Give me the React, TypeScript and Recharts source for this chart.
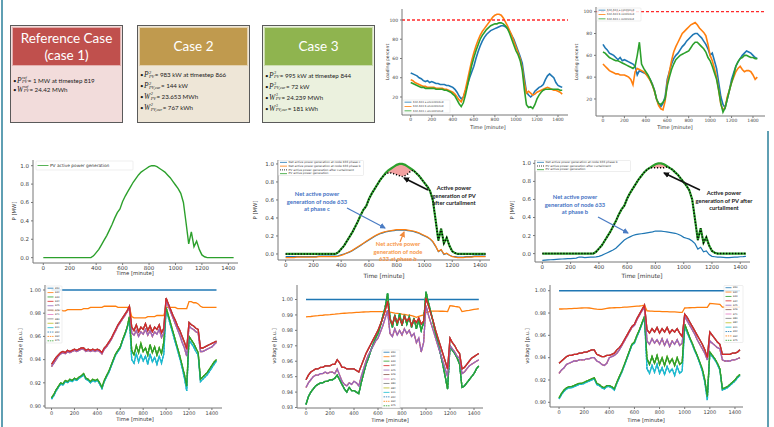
import { Area, ComposedChart, Line, ReferenceLine, XAxis, YAxis } from 'recharts';

// time grid shared by every series (minutes)
const MINUTES = [
  0, 20, 40, 60, 80, 100, 120, 140, 160, 180,
  200, 220, 240, 260, 280, 300, 320, 340, 360, 380,
  400, 420, 440, 460, 480, 500, 520, 540, 560, 580,
  600, 620, 640, 660, 680, 700, 720, 740, 760, 780,
  800, 820, 840, 860, 880, 900, 920, 940, 960, 980,
  1000, 1020, 1040, 1060, 1080, 1100, 1120, 1140, 1160, 1180,
  1200, 1220, 1240, 1260, 1280, 1300, 1320, 1340, 1360, 1380,
  1400, 1420, 1440,
];
const X_TICKS = [0, 200, 400, 600, 800, 1000, 1200, 1400];
const LOAD_TICKS = [20, 40, 60, 80, 100];
const P_TICKS = [0, 0.2, 0.4, 0.6, 0.8, 1.0];
const V_TICKS_WIDE = [0.9, 0.92, 0.94, 0.96, 0.98, 1.0];
const V_TICKS_CASE2 = [0.93, 0.94, 0.95, 0.96, 0.97, 0.98, 0.99, 1.0];
const LOADING_LIMIT = 100;
const SOURCE_BUS_V = 1.0;

// line 632-633 loading, uncontrolled (reference case)
const LOAD_UNC_A = [
  45, 44, 43, 42, 40, 39, 37, 36, 37, 35,
  36, 35, 34, 34, 33, 33, 33, 32, 32, 31,
  30, 28, 25, 21, 18, 20, 26, 33, 40, 46,
  52, 60, 67, 73, 78, 82, 85, 87, 89, 90,
  91, 92, 93, 94, 94, 93, 91, 88, 84, 80,
  74, 68, 62, 55, 40, 25, 22, 20, 22, 26,
  28, 30, 31, 33, 38, 42, 44, 42, 40, 35,
  32, 31, 30,
];
const LOAD_UNC_B = [
  38, 37, 35, 34, 33, 32, 31, 31, 30, 30,
  30, 30, 29, 29, 29, 29, 28, 28, 27, 26,
  25, 23, 20, 17, 15, 20, 28, 38, 48, 58,
  66, 73, 79, 84, 88, 91, 94, 97, 100, 103,
  105, 106, 106, 105, 102, 98, 94, 89, 84, 78,
  72, 66, 60, 50, 35, 24, 26, 24, 22, 23,
  25, 26, 27, 28, 29, 30, 29, 28, 27, 27,
  26, 25, 23,
];
const LOAD_UNC_C = [
  35, 34, 33, 32, 31, 30, 30, 29, 29, 29,
  29, 29, 28, 28, 28, 28, 27, 27, 26, 25,
  23, 21, 17, 13, 10, 14, 22, 32, 43, 53,
  61, 68, 74, 80, 84, 87, 90, 92, 94, 95,
  96, 96, 97, 97, 96, 94, 91, 86, 80, 74,
  68, 64, 58, 48, 28, 12, 9, 10, 8, 12,
  18, 22, 25, 27, 28, 28, 28, 28, 28, 28,
  28, 27, 27,
];
// controlled
const LOAD_CTL_A = [
  70, 67, 65, 62, 61, 60, 58, 56, 58, 55,
  56, 55, 54, 53, 52, 50, 42, 46, 45, 44,
  43, 41, 38, 34, 28, 20, 15, 13, 16, 22,
  38, 45, 52, 57, 60, 62, 65, 68, 70, 73,
  75, 77, 79, 80, 80, 78, 76, 73, 70, 66,
  60, 62, 55, 48, 35, 22, 15, 12, 20, 28,
  38, 44, 50, 54, 57, 60, 62, 64, 63, 62,
  60, 58, 57,
];
const LOAD_CTL_B = [
  52, 50, 48, 46, 45, 44, 43, 43, 42, 42,
  42, 41, 40, 38, 33, 45, 48, 47, 46, 45,
  43, 40, 37, 33, 27, 20, 14, 11, 10, 18,
  35, 45, 55, 63, 68, 72, 76, 80, 82, 84,
  86, 88, 89, 90, 88, 85, 83, 81, 78, 70,
  60, 55, 48, 40, 28, 15, 10, 12, 22, 28,
  35, 40, 45, 48, 50, 47, 45, 46, 46, 45,
  42, 38, 40,
];
const LOAD_CTL_C = [
  63, 62, 60, 58, 57, 56, 55, 55, 54, 53,
  52, 51, 50, 49, 48, 50, 60, 72, 52, 48,
  45, 42, 38, 33, 28, 20, 16, 15, 17, 20,
  32, 40, 47, 52, 56, 58, 60, 61, 62, 63,
  64, 67, 70, 72, 72, 70, 68, 66, 63, 58,
  55, 50, 44, 38, 28, 16, 8, 12, 20, 28,
  35, 42, 50, 54, 57, 58, 60, 60, 59, 58,
  58, 57, 57,
];

// PV active power [MW]
const PV_GEN = [
  0, 0, 0, 0, 0, 0, 0, 0, 0, 0,
  0, 0, 0, 0, 0, 0, 0, 0, 0, 0.02,
  0.055, 0.09, 0.14, 0.19, 0.24, 0.3, 0.36, 0.43, 0.49, 0.53,
  0.61, 0.67, 0.72, 0.77, 0.82, 0.86, 0.9, 0.93, 0.95, 0.97,
  0.99, 1.0, 1.0, 0.99, 0.97, 0.95, 0.93, 0.9, 0.87, 0.83,
  0.79, 0.75, 0.7, 0.6, 0.38, 0.15, 0.28, 0.12, 0.18, 0.09,
  0.03, 0.01, 0, 0, 0, 0, 0, 0, 0, 0,
  0, 0, 0,
];
const PV_CUR_CASE2 = [
  0, 0, 0, 0, 0, 0, 0, 0, 0, 0,
  0, 0, 0, 0, 0, 0, 0, 0, 0, 0.02,
  0.055, 0.09, 0.14, 0.19, 0.24, 0.3, 0.36, 0.43, 0.49, 0.53,
  0.61, 0.67, 0.72, 0.77, 0.82, 0.86, 0.89, 0.9, 0.9, 0.89,
  0.88, 0.87, 0.86, 0.87, 0.89, 0.92, 0.93, 0.9, 0.87, 0.83,
  0.79, 0.75, 0.7, 0.6, 0.38, 0.15, 0.28, 0.12, 0.18, 0.09,
  0.03, 0.01, 0, 0, 0, 0, 0, 0, 0, 0,
  0, 0, 0,
];
const PV_CUR_CASE3 = [
  0, 0, 0, 0, 0, 0, 0, 0, 0, 0,
  0, 0, 0, 0, 0, 0, 0, 0, 0, 0.02,
  0.055, 0.09, 0.14, 0.19, 0.24, 0.3, 0.36, 0.43, 0.49, 0.53,
  0.61, 0.67, 0.72, 0.77, 0.82, 0.86, 0.9, 0.93, 0.95, 0.95,
  0.95, 0.95, 0.95, 0.95, 0.96, 0.95, 0.93, 0.9, 0.87, 0.83,
  0.79, 0.75, 0.7, 0.6, 0.38, 0.15, 0.28, 0.12, 0.18, 0.09,
  0.03, 0.01, 0, 0, 0, 0, 0, 0, 0, 0,
  0, 0, 0,
];
const NET633_C_CASE2 = [
  -0.03, -0.03, -0.03, -0.03, -0.03, -0.03, -0.03, -0.03, -0.03, -0.03,
  -0.03, -0.03, -0.025, -0.025, -0.025, -0.025, -0.025, -0.025, -0.025, -0.02,
  -0.01, 0.0, 0.01, 0.02, 0.035, 0.055, 0.075, 0.095, 0.115, 0.135,
  0.155, 0.175, 0.195, 0.21, 0.225, 0.235, 0.245, 0.25, 0.255, 0.26,
  0.265, 0.265, 0.265, 0.265, 0.26, 0.255, 0.25, 0.24, 0.23, 0.215,
  0.2, 0.185, 0.165, 0.135, 0.085, 0.025, 0.045, -0.005, 0.005, -0.015,
  -0.025, -0.03, -0.035, -0.035, -0.035, -0.03, -0.03, -0.03, -0.025, -0.025,
  -0.025, -0.025, -0.025,
];
const NET633_B_CASE2 = [
  -0.04, -0.04, -0.04, -0.04, -0.035, -0.035, -0.035, -0.035, -0.035, -0.035,
  -0.035, -0.035, -0.03, -0.03, -0.03, -0.03, -0.03, -0.03, -0.03, -0.025,
  -0.015, -0.005, 0.01, 0.025, 0.04, 0.06, 0.08, 0.1, 0.12, 0.14,
  0.16, 0.18, 0.2, 0.215, 0.23, 0.24, 0.25, 0.255, 0.26, 0.265,
  0.27, 0.27, 0.27, 0.27, 0.265, 0.26, 0.255, 0.245, 0.235, 0.22,
  0.205, 0.19, 0.17, 0.14, 0.09, 0.03, 0.05, 0.0, 0.01, -0.015,
  -0.03, -0.035, -0.04, -0.04, -0.04, -0.035, -0.035, -0.035, -0.03, -0.03,
  -0.03, -0.03, -0.03,
];
const NET633_B_CASE3 = [
  -0.075, -0.072, -0.07, -0.068, -0.066, -0.064, -0.062, -0.06, -0.058, -0.056,
  -0.055, -0.052, -0.05, -0.038, -0.04, -0.045, -0.042, -0.04, -0.038, -0.036,
  -0.03, -0.02, -0.005, 0.01, 0.025, 0.04, 0.06, 0.09, 0.12, 0.15,
  0.17, 0.185, 0.2, 0.21, 0.215, 0.22, 0.225, 0.23, 0.235, 0.24,
  0.25, 0.25, 0.248, 0.245, 0.24, 0.235, 0.23, 0.225, 0.215, 0.2,
  0.18, 0.17, 0.16, 0.14, 0.11, 0.05, 0.07, 0.02, 0.03, -0.01,
  -0.03, -0.035, -0.04, -0.04, -0.042, -0.045, -0.045, -0.042, -0.04, -0.038,
  -0.035, -0.033, -0.03,
];

// bus voltages [p.u.], case 1
const V1_ORANGE = [
  0.982, 0.982, 0.982, 0.982, 0.983, 0.982, 0.982, 0.983, 0.983, 0.983,
  0.983, 0.983, 0.983, 0.983, 0.984, 0.984, 0.984, 0.985, 0.985, 0.985,
  0.985, 0.985, 0.985, 0.986, 0.986, 0.986, 0.986, 0.986, 0.986, 0.985,
  0.985, 0.985, 0.985, 0.985, 0.985, 0.977, 0.976, 0.976, 0.976, 0.976,
  0.976, 0.976, 0.977, 0.977, 0.977, 0.977, 0.978, 0.978, 0.978, 0.978,
  0.985, 0.985, 0.985, 0.985, 0.985, 0.984, 0.984, 0.984, 0.984, 0.984,
  0.99, 0.99, 0.989, 0.989, 0.988, 0.986, 0.985, 0.985, 0.985, 0.985,
  0.985, 0.985, 0.985,
];
const V1_RED = [
  0.936, 0.939, 0.942, 0.944, 0.946, 0.947, 0.946, 0.948, 0.947, 0.948,
  0.949, 0.948, 0.949, 0.95, 0.95, 0.948, 0.949, 0.948, 0.949, 0.948,
  0.949, 0.948, 0.946, 0.95, 0.952, 0.955, 0.958, 0.962, 0.966, 0.97,
  0.973, 0.976, 0.979, 0.982, 0.986, 0.968, 0.965, 0.97, 0.964, 0.968,
  0.966, 0.971, 0.965, 0.969, 0.964, 0.968, 0.966, 0.97, 0.963, 0.967,
  0.993, 0.988, 0.983, 0.978, 0.974, 0.969, 0.965, 0.96, 0.955, 0.949,
  0.972, 0.97, 0.969, 0.967, 0.966, 0.95, 0.95, 0.951, 0.952, 0.953,
  0.954, 0.955, 0.956,
];
const V1_PURPLE = [
  0.934, 0.937, 0.94, 0.943, 0.945, 0.946, 0.945, 0.947, 0.946, 0.947,
  0.948, 0.947, 0.948, 0.949, 0.949, 0.947, 0.948, 0.947, 0.948, 0.947,
  0.948, 0.947, 0.945, 0.949, 0.951, 0.954, 0.957, 0.961, 0.965, 0.969,
  0.972, 0.975, 0.978, 0.981, 0.985, 0.963, 0.961, 0.965, 0.96, 0.964,
  0.962, 0.966, 0.961, 0.965, 0.96, 0.964, 0.962, 0.966, 0.959, 0.963,
  0.991, 0.986, 0.981, 0.976, 0.971, 0.966, 0.961, 0.955, 0.95, 0.943,
  0.969, 0.967, 0.966, 0.964, 0.963, 0.947, 0.947, 0.948, 0.949, 0.95,
  0.951, 0.953, 0.955,
];
const V1_GREEN = [
  0.907, 0.91, 0.914, 0.917, 0.92, 0.919, 0.922, 0.921, 0.923, 0.922,
  0.924, 0.923, 0.925, 0.926, 0.928, 0.924, 0.923, 0.921, 0.923, 0.922,
  0.923, 0.92, 0.916, 0.922, 0.926, 0.93, 0.935, 0.94, 0.945, 0.948,
  0.951, 0.957, 0.962, 0.968, 0.977, 0.948, 0.944, 0.952, 0.946, 0.954,
  0.947, 0.95, 0.944, 0.953, 0.946, 0.951, 0.944, 0.95, 0.945, 0.955,
  0.985, 0.978, 0.971, 0.964, 0.957, 0.95, 0.943, 0.935, 0.927, 0.917,
  0.96, 0.957, 0.954, 0.95, 0.946, 0.923, 0.925, 0.927, 0.929, 0.932,
  0.935, 0.938, 0.94,
];
const V1_CYAN = [
  0.906, 0.909, 0.913, 0.916, 0.919, 0.918, 0.921, 0.92, 0.922, 0.921,
  0.923, 0.922, 0.924, 0.925, 0.927, 0.923, 0.922, 0.92, 0.922, 0.921,
  0.922, 0.919, 0.915, 0.921, 0.925, 0.929, 0.934, 0.939, 0.944, 0.947,
  0.95, 0.956, 0.961, 0.967, 0.975, 0.94, 0.937, 0.945, 0.938, 0.944,
  0.939, 0.943, 0.936, 0.945, 0.938, 0.942, 0.936, 0.943, 0.937, 0.945,
  0.983, 0.976, 0.969, 0.962, 0.955, 0.948, 0.941, 0.933, 0.924, 0.913,
  0.957, 0.954, 0.951, 0.947, 0.944, 0.921, 0.923, 0.925, 0.927, 0.93,
  0.933, 0.936, 0.939,
];

// case 2
const V2_ORANGE = [
  0.9888, 0.9889, 0.989, 0.9892, 0.9894, 0.9895, 0.9897, 0.9898, 0.99, 0.9901,
  0.9902, 0.9904, 0.9905, 0.9907, 0.9908, 0.991, 0.9911, 0.9912, 0.9913, 0.9914,
  0.9915, 0.9916, 0.9917, 0.9918, 0.9919, 0.992, 0.992, 0.9921, 0.9921, 0.9921,
  0.9922, 0.9922, 0.9922, 0.9921, 0.992, 0.9918, 0.9915, 0.9912, 0.991, 0.9908,
  0.9905, 0.9903, 0.99, 0.9898, 0.9895, 0.989, 0.9885, 0.989, 0.9895, 0.99,
  0.9915, 0.992, 0.9925, 0.9925, 0.9925, 0.9925, 0.9924, 0.9924, 0.9923, 0.9922,
  0.996, 0.9958, 0.9955, 0.9953, 0.995, 0.9922, 0.9925, 0.9928, 0.993, 0.9933,
  0.9936, 0.9938, 0.994,
];
const V2_RED = [
  0.948, 0.951, 0.953, 0.954, 0.955, 0.955, 0.956, 0.956, 0.957, 0.957,
  0.957, 0.958, 0.958, 0.961, 0.959, 0.956, 0.956, 0.955, 0.955, 0.955,
  0.955, 0.954, 0.953, 0.957, 0.961, 0.965, 0.968, 0.971, 0.974, 0.977,
  0.98, 0.984, 0.988, 0.993, 0.999, 0.987, 0.984, 0.989, 0.985, 0.988,
  0.984, 0.989, 0.986, 0.988, 0.983, 0.987, 0.985, 0.988, 0.984, 0.986,
  1.001, 0.996, 0.991, 0.986, 0.98, 0.975, 0.97, 0.965, 0.96, 0.955,
  0.975, 0.972, 0.97, 0.967, 0.965, 0.955, 0.956, 0.958, 0.96, 0.962,
  0.963, 0.964, 0.965,
];
const V2_PURPLE = [
  0.943, 0.946, 0.948, 0.95, 0.951, 0.951, 0.952, 0.952, 0.953, 0.952,
  0.953, 0.953, 0.952, 0.955, 0.951, 0.947, 0.945, 0.944, 0.946, 0.945,
  0.947, 0.946, 0.944, 0.95, 0.955, 0.96, 0.964, 0.967, 0.97, 0.973,
  0.975, 0.979, 0.983, 0.988, 0.993, 0.978, 0.976, 0.981, 0.977, 0.98,
  0.977, 0.981, 0.978, 0.98, 0.976, 0.978, 0.972, 0.975, 0.966, 0.972,
  0.996, 0.99, 0.985, 0.98, 0.975, 0.97, 0.965, 0.96, 0.955, 0.95,
  0.97, 0.968, 0.966, 0.963, 0.962, 0.952, 0.953, 0.955, 0.957, 0.958,
  0.959, 0.96, 0.961,
];
const V2_GREEN = [
  0.932, 0.937, 0.94, 0.942, 0.944, 0.945, 0.946, 0.946, 0.947, 0.947,
  0.948, 0.948, 0.949, 0.951, 0.948, 0.945, 0.942, 0.94, 0.943, 0.941,
  0.941, 0.94, 0.939, 0.946, 0.952, 0.958, 0.962, 0.967, 0.971, 0.975,
  0.978, 0.983, 0.989, 0.995, 1.004, 0.988, 0.982, 0.99, 0.983, 0.991,
  0.983, 0.99, 0.984, 0.989, 0.982, 0.988, 0.981, 0.987, 0.98, 0.985,
  1.005, 0.998, 0.992, 0.985, 0.978, 0.972, 0.965, 0.958, 0.95, 0.942,
  0.97, 0.967, 0.965, 0.962, 0.958, 0.943, 0.944, 0.946, 0.948, 0.95,
  0.952, 0.955, 0.957,
];

// case 3
const V3_ORANGE = [
  0.9836, 0.9836, 0.9838, 0.9838, 0.984, 0.984, 0.9842, 0.9842, 0.9844, 0.9845,
  0.9846, 0.9846, 0.9845, 0.9842, 0.9838, 0.9834, 0.9832, 0.9832, 0.9838, 0.9842,
  0.9845, 0.9846, 0.9847, 0.9848, 0.9849, 0.985, 0.9852, 0.9853, 0.9855, 0.9857,
  0.9859, 0.9861, 0.9863, 0.9866, 0.987, 0.982, 0.9818, 0.9817, 0.9815, 0.9815,
  0.9814, 0.9813, 0.9812, 0.9812, 0.9811, 0.981, 0.981, 0.9808, 0.9806, 0.9805,
  0.9845, 0.9846, 0.9847, 0.9848, 0.9849, 0.985, 0.985, 0.985, 0.985, 0.985,
  0.9885, 0.9884, 0.9882, 0.988, 0.9878, 0.9852, 0.9852, 0.9852, 0.9852, 0.9852,
  0.9852, 0.9852, 0.9852,
];
const V3_RED = [
  0.935, 0.937, 0.939, 0.941, 0.942, 0.942, 0.943, 0.943, 0.944, 0.944,
  0.945, 0.945, 0.946, 0.947, 0.947, 0.943, 0.942, 0.941, 0.941, 0.942,
  0.942, 0.943, 0.944, 0.947, 0.949, 0.952, 0.956, 0.96, 0.964, 0.968,
  0.97, 0.975, 0.979, 0.983, 0.987, 0.965, 0.962, 0.966, 0.963, 0.967,
  0.962, 0.966, 0.963, 0.967, 0.962, 0.965, 0.963, 0.966, 0.962, 0.959,
  0.979, 0.976, 0.972, 0.968, 0.964, 0.96, 0.956, 0.952, 0.947, 0.94,
  0.963, 0.96, 0.957, 0.954, 0.952, 0.943, 0.943, 0.943, 0.943, 0.944,
  0.944, 0.945, 0.947,
];
const V3_PURPLE = [
  0.926, 0.929, 0.931, 0.934, 0.935, 0.936, 0.937, 0.937, 0.938, 0.938,
  0.938, 0.939, 0.939, 0.94, 0.94, 0.937, 0.936, 0.934, 0.933, 0.935,
  0.94, 0.941, 0.942, 0.944, 0.947, 0.951, 0.955, 0.959, 0.963, 0.967,
  0.969, 0.974, 0.978, 0.982, 0.985, 0.955, 0.952, 0.957, 0.953, 0.956,
  0.952, 0.957, 0.951, 0.956, 0.95, 0.955, 0.952, 0.956, 0.951, 0.953,
  0.977, 0.973, 0.969, 0.965, 0.961, 0.956, 0.952, 0.948, 0.944, 0.938,
  0.955, 0.953, 0.951, 0.949, 0.948, 0.938, 0.937, 0.937, 0.937, 0.938,
  0.938, 0.939, 0.94,
];
const V3_GREEN = [
  0.904, 0.908, 0.911, 0.913, 0.914, 0.914, 0.915, 0.916, 0.917, 0.917,
  0.918, 0.919, 0.92, 0.921, 0.922, 0.917, 0.916, 0.914, 0.913, 0.915,
  0.915, 0.914, 0.912, 0.918, 0.923, 0.928, 0.934, 0.94, 0.946, 0.952,
  0.954, 0.96, 0.965, 0.971, 0.977, 0.939, 0.934, 0.941, 0.935, 0.942,
  0.934, 0.94, 0.933, 0.941, 0.935, 0.939, 0.933, 0.94, 0.934, 0.936,
  0.97, 0.964, 0.958, 0.953, 0.947, 0.942, 0.936, 0.93, 0.92, 0.905,
  0.945, 0.942, 0.939, 0.935, 0.93, 0.912, 0.913, 0.914, 0.916, 0.918,
  0.92, 0.923, 0.925,
];
const V3_CYAN = [
  0.903, 0.907, 0.91, 0.912, 0.913, 0.913, 0.914, 0.915, 0.916, 0.916,
  0.917, 0.918, 0.919, 0.92, 0.921, 0.916, 0.915, 0.913, 0.912, 0.914,
  0.914, 0.913, 0.911, 0.917, 0.922, 0.927, 0.933, 0.939, 0.945, 0.951,
  0.953, 0.959, 0.964, 0.97, 0.976, 0.93, 0.926, 0.933, 0.927, 0.934,
  0.926, 0.931, 0.925, 0.932, 0.927, 0.93, 0.924, 0.932, 0.926, 0.928,
  0.968, 0.962, 0.957, 0.952, 0.946, 0.941, 0.935, 0.928, 0.918, 0.902,
  0.944, 0.941, 0.938, 0.934, 0.929, 0.911, 0.912, 0.913, 0.915, 0.917,
  0.919, 0.922, 0.924,
];

const C = {
  blue: '#1f77b4', orange: '#ff7f0e', green: '#2ca02c', red: '#d62728', purple: '#9467bd',
  brown: '#8c564b', pink: '#e377c2', gray: '#7f7f7f', olive: '#bcbd22', cyan: '#17becf',
};
const BUSES = ['650', '632', '633', '634', '645', '646', '671', '680', '684', '611', '652', '692', '675'];
const BUS_COLORS = [C.blue, C.orange, C.green, C.red, C.purple, C.brown, C.pink, C.gray, C.olive, C.cyan, C.blue, C.orange, C.green];

type Series = { key: string; color: string; values: number[]; width?: number; dash?: string };
type Box = [number, number, number, number];

function voltSeries(g: { orange: number[]; red: number[]; purple: number[]; green: number[]; cyan: number[] }): Series[] {
  // buses that sit on top of each other are drawn first, the distinct ones last
  return [
    { key: 'b646', color: C.brown, values: g.red },
    { key: 'b671', color: C.pink, values: g.purple },
    { key: 'b680', color: C.gray, values: g.red },
    { key: 'b684', color: C.olive, values: g.green },
    { key: 'b652', color: C.blue, values: g.cyan, dash: '2 1' },
    { key: 'b692', color: C.orange, values: g.purple, dash: '2 1' },
    { key: 'b675', color: C.green, values: g.green, dash: '2 1' },
    { key: 'b632', color: C.orange, values: g.orange },
    { key: 'b611', color: C.cyan, values: g.cyan },
    { key: 'b633', color: C.green, values: g.green },
    { key: 'b645', color: C.purple, values: g.purple },
    { key: 'b634', color: C.red, values: g.red },
  ];
}

const AX = '#777';

function Plot(props: {
  box: Box; xDomain: [number, number]; yDomain: [number, number]; yTicks: number[]; digits: number;
  font: number; series: Series[]; band?: [number[], number[]]; hline?: number; vsource?: number; lineW?: number;
}) {
  const { box, xDomain, yDomain, yTicks, digits, font, series, band, hline, vsource, lineW = 1 } = props;
  const [x, y, w, h] = box;
  const ML = 32, MT = 2, MR = 2, MB = 14;
  const data = MINUTES.map((t, i) => {
    const r: Record<string, unknown> = { t };
    series.forEach((s) => { r[s.key] = s.values[i]; });
    if (band) r.band = [band[0][i], band[1][i]];
    return r;
  });
  const tick = { fontSize: font, fill: '#444', fontFamily: 'DejaVu Sans' };
  return (
    <div style={{ position: 'absolute', left: x - ML, top: y - MT }}>
      <ComposedChart width={w + ML + MR} height={h + MT + MB} data={data} margin={{ top: MT, right: MR, bottom: 0, left: 0 }}>
        <XAxis dataKey="t" type="number" domain={xDomain} ticks={X_TICKS} interval={0} height={MB} tickSize={2}
          tickMargin={1} tick={tick} stroke={AX} allowDataOverflow />
        <XAxis xAxisId="top" dataKey="t" type="number" domain={xDomain} orientation="top" height={0}
          tick={false} tickLine={false} stroke={AX} allowDataOverflow />
        <YAxis type="number" domain={yDomain} ticks={yTicks} interval={0} width={ML} tickSize={2} tickMargin={2}
          tick={tick} tickFormatter={(v: number) => v.toFixed(digits)} stroke={AX} allowDataOverflow />
        <YAxis yAxisId="r" orientation="right" type="number" domain={yDomain} width={0} tick={false}
          tickLine={false} stroke={AX} allowDataOverflow />
        {band && <Area dataKey="band" type="linear" stroke="none" fill="#f08a8a" fillOpacity={0.8} isAnimationActive={false} />}
        {vsource !== undefined && (
          <ReferenceLine segment={[{ x: 0, y: vsource }, { x: 1440, y: vsource }]} stroke={C.blue} strokeWidth={1.5} />
        )}
        {series.map((s) => (
          <Line key={s.key} dataKey={s.key} type="linear" stroke={s.color} strokeWidth={s.width ?? lineW}
            strokeDasharray={s.dash} dot={false} isAnimationActive={false} />
        ))}
        {hline !== undefined && (
          <ReferenceLine y={hline} stroke="#ff2a2a" strokeDasharray="3 2" strokeWidth={1.3} />
        )}
      </ComposedChart>
    </div>
  );
}

type LegItem = { label: string; color: string; dash?: string };

function Legend(props: { x: number; y: number; w: number; h: number; items: LegItem[]; font: number; len: number }) {
  const { x, y, w, h, items, font, len } = props;
  const row = h / items.length;
  return (
    <g>
      <rect x={x} y={y} width={w} height={h} fill="#fff" fillOpacity={0.85} stroke="#ddd" strokeWidth={0.5} rx={0.8} />
      {items.map((it, i) => {
        const cy = y + row * (i + 0.5);
        return (
          <g key={i}>
            <line x1={x + 1.5} x2={x + 1.5 + len} y1={cy} y2={cy} stroke={it.color} strokeWidth={0.8} strokeDasharray={it.dash} />
            <text x={x + 3 + len} y={cy} fontSize={font} fill="#333" dominantBaseline="middle" fontFamily="DejaVu Sans">{it.label}</text>
          </g>
        );
      })}
    </g>
  );
}

function Sym({ b, sup, sub }: { b: string; sup: string; sub: string }) {
  return (
    <span style={{ display: 'inline-flex', alignItems: 'center', fontStyle: 'italic', fontFamily: 'Liberation Serif', margin: '0 0.5px' }}>
      <span style={{ fontSize: 7.5 }}>{b}</span>
      <span style={{ display: 'inline-flex', flexDirection: 'column', fontSize: 4.3, lineHeight: '4.3px', marginLeft: 0.3 }}>
        <span>{sup}</span>
        <span>{sub}</span>
      </span>
    </span>
  );
}

type CaseLine = { b: string; sup: string; sub: string; text: string };
const CASES: { left: number; title: string[]; head: string; body: string; lh: number; pad: number; lines: CaseLine[] }[] = [
  {
    left: 10, title: ['Reference Case', '(case 1)'], head: '#c0504d', body: '#f2dcdb', lh: 9, pad: 9.5,
    lines: [
      { b: 'P', sup: 'ref', sub: 'PV', text: '= 1 MW at timestep 819' },
      { b: 'W', sup: 'ref', sub: 'PV', text: '= 24.42 MWh' },
    ],
  },
  {
    left: 137, title: ['Case 2'], head: '#c09a4e', body: '#eee6d7', lh: 10.9, pad: 3.5,
    lines: [
      { b: 'P', sup: '2', sub: 'PV', text: '= 983 kW at timestep 866' },
      { b: 'P', sup: '2', sub: 'PV,cur', text: '= 144 kW' },
      { b: 'W', sup: '2', sub: 'PV', text: '= 23.653 MWh' },
      { b: 'W', sup: '2', sub: 'PV,cur', text: '= 767 kWh' },
    ],
  },
  {
    left: 262, title: ['Case 3'], head: '#8fb44f', body: '#ebf1de', lh: 10.9, pad: 4,
    lines: [
      { b: 'P', sup: '3', sub: 'PV', text: '= 995 kW at timestep 844' },
      { b: 'P', sup: '3', sub: 'PV,cur', text: '= 72 kW' },
      { b: 'W', sup: '3', sub: 'PV', text: '= 24.239 MWh' },
      { b: 'W', sup: '3', sub: 'PV,cur', text: '= 181 kWh' },
    ],
  },
];

function CaseBox({ c }: { c: (typeof CASES)[number] }) {
  return (
    <div style={{ position: 'absolute', left: c.left, top: 25, width: 113, height: 98, boxSizing: 'border-box',
      border: '1px solid #5a5a5a', background: c.body }}>
      <div style={{ margin: '1px 1px 0', height: 39, boxSizing: 'border-box', background: c.head,
        border: '1px solid rgba(255,255,255,0.55)', display: 'flex', flexDirection: 'column', justifyContent: 'center',
        alignItems: 'center', color: '#fff', fontFamily: 'Lato', fontSize: 13.5, lineHeight: '17px' }}>
        {c.title.map((t) => <div key={t}>{t}</div>)}
      </div>
      <div style={{ paddingTop: c.pad, paddingLeft: 2 }}>
        {c.lines.map((l, i) => (
          <div key={i} style={{ height: c.lh, display: 'flex', alignItems: 'center', fontFamily: 'Lato', fontSize: 6.2, color: '#1a1a1a', whiteSpace: 'nowrap' }}>
            <span>•</span>
            <Sym b={l.b} sup={l.sup} sub={l.sub} />
            <span>{l.text}</span>
          </div>
        ))}
      </div>
    </div>
  );
}

function Label({ x, y, text, rot, size = 5.3 }: { x: number; y: number; text: string; rot?: boolean; size?: number }) {
  return (
    <text x={x} y={y} fontSize={size} fill="#333" textAnchor="middle" dominantBaseline="middle" fontFamily="DejaVu Sans"
      transform={rot ? `rotate(-90 ${x} ${y})` : undefined}>{text}</text>
  );
}

function Note({ x, y, lines, color, size = 5.8 }: { x: number; y: number; lines: string[]; color: string; size?: number }) {
  return (
    <text x={x} y={y} fontSize={size} fill={color} textAnchor="middle" fontFamily="Lato" fontWeight={700}>
      {lines.map((l, i) => <tspan key={i} x={x} dy={i === 0 ? 0 : size * 1.3}>{l}</tspan>)}
    </text>
  );
}

const LOAD_LEG = (mode: string): LegItem[] => [
  { label: `632-633 a ${mode}`, color: C.blue },
  { label: `632-633 b ${mode}`, color: C.orange },
  { label: `632-633 c ${mode}`, color: C.green },
];
const BUS_LEG: LegItem[] = BUSES.map((b, i) => ({ label: b, color: BUS_COLORS[i], dash: i >= 10 ? '1.5 0.8' : undefined }));
const CUR_ITEM: LegItem = { label: 'PV active power generation after curtailment', color: '#000', dash: '1 1' };
const PV_ITEM: LegItem = { label: 'PV active power generation', color: C.green };

export default function App() {
  const arrows = [
    { id: 'k', c: '#111' }, { id: 'b', c: '#4a7cc4' }, { id: 'o', c: '#f28a3c' },
  ];
  return (
    <div style={{ position: 'absolute', left: 0, top: 0, width: 774, height: 427, background: '#fff', overflow: 'hidden', fontFamily: 'DejaVu Sans' }}>
      {CASES.map((c) => <CaseBox key={c.left} c={c} />)}

      <Plot box={[402, 9, 166, 106]} xDomain={[-83, 1495]} yDomain={[1.3, 111.4]} yTicks={LOAD_TICKS} digits={0} font={4.5}
        lineW={1.6} hline={LOADING_LIMIT}
        series={[
          { key: 'a', color: C.blue, values: LOAD_UNC_A },
          { key: 'b', color: C.orange, values: LOAD_UNC_B },
          { key: 'c', color: C.green, values: LOAD_UNC_C },
        ]} />
      <Plot box={[596, 7, 169, 109]} xDomain={[-65, 1512]} yDomain={[4.4, 104.3]} yTicks={LOAD_TICKS} digits={0} font={4.5}
        lineW={1.6} hline={LOADING_LIMIT}
        series={[
          { key: 'a', color: C.blue, values: LOAD_CTL_A },
          { key: 'b', color: C.orange, values: LOAD_CTL_B },
          { key: 'c', color: C.green, values: LOAD_CTL_C },
        ]} />

      <Plot box={[33, 160, 205, 103]} xDomain={[-78, 1473]} yDomain={[-0.058, 1.062]} yTicks={P_TICKS} digits={1} font={5.5}
        series={[{ key: 'pv', color: C.green, values: PV_GEN, width: 1.4 }]} />
      <Plot box={[278, 160, 212, 100]} xDomain={[-55, 1472]} yDomain={[-0.067, 1.044]} yTicks={P_TICKS} digits={1} font={5.5}
        band={[PV_CUR_CASE2, PV_GEN]}
        series={[
          { key: 'nc', color: C.blue, values: NET633_C_CASE2, width: 1.2 },
          { key: 'nb', color: C.orange, values: NET633_B_CASE2, width: 1.2 },
          { key: 'pv', color: C.green, values: PV_GEN, width: 2.2 },
          { key: 'cur', color: '#000', values: PV_CUR_CASE2, width: 1.5, dash: '1.2 1.8' },
        ]} />
      <Plot box={[535, 160, 215, 102]} xDomain={[-52, 1469]} yDomain={[-0.093, 1.037]} yTicks={P_TICKS} digits={1} font={5.5}
        band={[PV_CUR_CASE3, PV_GEN]}
        series={[
          { key: 'nb', color: C.blue, values: NET633_B_CASE3, width: 1.2 },
          { key: 'pv', color: C.green, values: PV_GEN, width: 2.2 },
          { key: 'cur', color: '#000', values: PV_CUR_CASE3, width: 1.5, dash: '1.2 1.8' },
        ]} />

      <Plot box={[45, 285, 177, 123]} xDomain={[-57, 1488]} yDomain={[0.8983, 1.0043]} yTicks={V_TICKS_WIDE} digits={2} font={5}
        vsource={SOURCE_BUS_V} lineW={1.3}
        series={voltSeries({ orange: V1_ORANGE, red: V1_RED, purple: V1_PURPLE, green: V1_GREEN, cyan: V1_CYAN })} />
      <Plot box={[297, 285, 186, 123]} xDomain={[-75, 1475]} yDomain={[0.9297, 1.0094]} yTicks={V_TICKS_CASE2} digits={2} font={5}
        vsource={SOURCE_BUS_V} lineW={1.3}
        series={voltSeries({ orange: V2_ORANGE, red: V2_RED, purple: V2_PURPLE, green: V2_GREEN, cyan: V2_GREEN })} />
      <Plot box={[550, 285, 193, 122]} xDomain={[-72, 1464]} yDomain={[0.8958, 1.0051]} yTicks={V_TICKS_WIDE} digits={2} font={5}
        vsource={SOURCE_BUS_V} lineW={1.3}
        series={voltSeries({ orange: V3_ORANGE, red: V3_RED, purple: V3_PURPLE, green: V3_GREEN, cyan: V3_CYAN })} />

      <svg width={774} height={427} style={{ position: 'absolute', left: 0, top: 0, pointerEvents: 'none' }}>
        <defs>
          {arrows.map((a) => (
            <marker key={a.id} id={`ah-${a.id}`} markerWidth={6} markerHeight={6} refX={5} refY={3} orient="auto" markerUnits="userSpaceOnUse">
              <path d="M0,0 L6,3 L0,6 z" fill={a.c} />
            </marker>
          ))}
        </defs>
        {/* slide frame */}
        <rect x={1} y={0} width={2} height={427} fill="#5f9fb3" />
        <rect x={767} y={131} width={2} height={296} fill="#5f9fb3" />

        {/* axis labels */}
        <Label x={488} y={128} text="Time [minute]" size={5} />
        <Label x={388} y={62} text="Loading percent" rot size={4.5} />
        <Label x={675} y={128} text="Time [minute]" size={5} />
        <Label x={577} y={62} text="Loading percent" rot size={4.5} />
        <Label x={135} y={274} text="Time [minute]" />
        <Label x={15} y={211} text="P [MW]" rot />
        <Label x={384} y={276} text="Time [minute]" size={5.8} />
        <Label x={256} y={210} text="P [MW]" rot />
        <Label x={642} y={276} text="Time [minute]" size={5.8} />
        <Label x={513} y={210} text="P [MW]" rot />
        <Label x={135} y={420} text="Time [minute]" />
        <Label x={21} y={346} text="voltage [p.u.]" rot />
        <Label x={390} y={421} text="Time [minute]" />
        <Label x={275} y={346} text="voltage [p.u.]" rot />
        <Label x={646} y={421} text="Time [minute]" />
        <Label x={528} y={346} text="voltage [p.u.]" rot />

        {/* legends */}
        <Legend x={403} y={100} w={47} h={13} items={LOAD_LEG('uncontrolled')} font={2.6} len={7} />
        <Legend x={597} y={8} w={44} h={13} items={LOAD_LEG('controlled')} font={2.6} len={7} />
        <Legend x={36} y={161} w={97} h={9} items={[PV_ITEM]} font={4.3} len={11} />
        <Legend x={278.5} y={160.5} w={85} h={15} font={2.9} len={7}
          items={[
            { label: 'Net active power generation at node 633 phase c', color: C.blue },
            { label: 'Net active power generation at node 633 phase b', color: C.orange },
            CUR_ITEM, PV_ITEM,
          ]} />
        <Legend x={535.5} y={160.5} w={95} h={11} font={2.9} len={7}
          items={[{ label: 'Net active power generation at node 633 phase b', color: C.blue }, CUR_ITEM, PV_ITEM]} />
        <Legend x={46} y={286} w={16} h={57} items={BUS_LEG} font={2.4} len={6} />
        <Legend x={382} y={350} w={18} h={58} items={BUS_LEG} font={2.4} len={6} />
        <Legend x={724} y={285.5} w={19} h={57} items={BUS_LEG} font={2.4} len={6} />

        {/* annotations, case 2 */}
        <line x1={428} y1={190} x2={404} y2={178} stroke="#111" strokeWidth={1.6} markerEnd="url(#ah-k)" />
        <Note x={454} y={190} color="#222" lines={['Active power', 'generation of PV', 'after curtailment']} />
        <line x1={347} y1={208} x2={385} y2={228} stroke="#4a7cc4" strokeWidth={1.2} markerEnd="url(#ah-b)" />
        <Note x={317} y={196} color="#4472c4" lines={['Net active power', 'generation of node 633', 'at phase c']} />
        <line x1={400} y1={242} x2={404} y2={232} stroke="#f28a3c" strokeWidth={1.2} markerEnd="url(#ah-o)" />
        <Note x={398} y={246} color="#f79646" lines={['Net active power', 'generation of node', '633 at phase b']} />

        {/* annotations, case 3 */}
        <line x1={700} y1={190} x2={664} y2={173} stroke="#111" strokeWidth={1.6} markerEnd="url(#ah-k)" />
        <Note x={724} y={195} color="#222" lines={['Active power', 'generation of PV after', 'curtailment']} />
        <line x1={598} y1={217} x2={628} y2={233} stroke="#4a7cc4" strokeWidth={1.2} markerEnd="url(#ah-b)" />
        <Note x={575} y={199} color="#4472c4" lines={['Net active power', 'generation of node 633', 'at phase b']} />
      </svg>
    </div>
  );
}
